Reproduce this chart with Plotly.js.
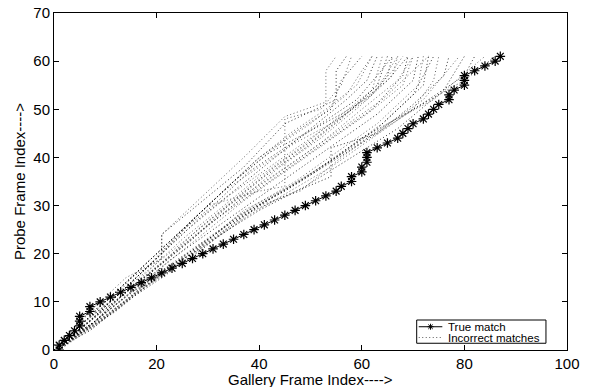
<!DOCTYPE html>
<html>
<head>
<meta charset="utf-8">
<script src="https://cdn.plot.ly/plotly-3.0.1.min.js"></script>
<style>html,body{margin:0;padding:0;background:#fff;}#chart{width:600px;height:387px;}</style>
</head>
<body>
<div id="chart"></div>
<script>
// True match path (gallery frame index vs probe frame index)
const trueX = [1,1,2,3,4,5,5,5,7,7,9,11,13,15,17,19,21,23,25,27,29,31,33,35,37,39,41,43,45,47,49,51,53,55,56,58,58,60,60,61,61,61,63,65,67,68,69,70,72,73,74,75,77,77,78,80,80,80,82,84,86,87];
const trueY = [0,1,2,3,4,5,6,7,8,9,10,11,12,13,14,15,16,17,18,19,20,21,22,23,24,25,26,27,28,29,30,31,32,33,34,35,36,37,38,39,40,41,42,43,44,45,46,47,48,49,50,51,52,53,54,55,56,57,58,59,60,61];

// Incorrect match paths (vertices)
const wrongX = [
  [0,4,9,14,21,21,28,37,45,53,53,55],
  [0,5,10,15,21,21,29,37,45,55,55,57],
  [1,5,11,16,22,30,40,45,45,52,56,58],
  [0,6,12,18,25,32,40,48,54,56,60],
  [1,6,13,20,27,35,43,50,57,60,62],
  [0,7,14,21,28,35,42,50,57,61,63],
  [1,6,12,18,25,32,40,48,55,62,64],
  [0,7,13,20,27,34,41,49,56,63,65],
  [1,6,14,21,29,36,44,52,60,66,67],
  [0,8,15,22,30,38,46,54,62,68,69],
  [1,7,14,22,29,37,45,53,61,68,70],
  [0,8,16,23,31,39,47,55,63,70,71],
  [1,8,15,23,31,39,47,55,63,71,72],
  [0,9,16,24,32,40,48,56,64,72,73],
  [1,8,15,22,30,38,46,54,62,70,74,75],
  [0,7,14,21,29,37,45,54,54,63,70,76,77],
  [1,8,13,21,29,37,46,55,64,72,79],
  [0,6,12,20,28,36,45,54,63,73,80,82],
  [1,7,13,20,27,34,40,48,56,65,74,84],
  [0,5,10,17,26,34,43,51,60,70,80,86],
  [0,6,12,19,26,33,40,47,54,61,66,68],
  [0,5,11,17,24,31,38,45,52,59,63,66],
  [1,7,13,20,27,34,41,48,56,64,70,73],
  [0,9,15,21,28,35,42,49,56,62,65,66],
  [0,6,13,20,28,36,44,52,60,67,70],
  [1,7,14,21,28,36,43,51,58,65,69],
  [0,5,12,19,26,34,42,50,58,64,67],
  [0,8,14,22,30,38,46,55,63,70,74],
  [1,6,11,18,25,32,39,46,53,59,62],
  [0,7,15,23,31,40,49,58,67,76,80]
];
const wrongY = [
  [0,5,10,15,19,24,31,40,48.5,51.5,58,61],
  [0,6,10,15,19,24,31,38,47,52,58,61],
  [0,5,10,16,22,30,33,34,48,50,55,61],
  [1,6,11,17,25,32,40,46,50,56,61],
  [1,5,12,19,27,35,42,47,53,58,61],
  [0,6,13,20,27,33,39,46,52,56,61],
  [0,4,10,16,23,29,36,42,48,54,61],
  [0,5,11,17,23,30,36,42,48,55,61],
  [1,5,12,18,25,31,38,44,51,57,61],
  [0,6,13,19,26,32,38,44,50,57,61],
  [0,5,11,18,24,31,37,43,49,55,61],
  [0,6,13,19,25,31,37,43,49,56,61],
  [1,6,12,18,24,30,35,41,47,55,61],
  [0,6,12,18,24,30,35,41,47,55,61],
  [0,5,11,16,22,28,33,38,44,50,56,61],
  [0,4,10,15,21,28,32,36,42,45,51,57,61],
  [1,5,9,16,22,29,34,40,46,52,61],
  [0,4,8,15,21,28,33,39,45,52,57,61],
  [0,5,9,16,20,25,30,33,40,47,52,61],
  [0,3,7,13,20,26,32,37,44,50,56,61],
  [0,6,12,19,26,33,38,43,47,52,58,61],
  [0,5,11,17,24,30,37,42,47,52,57,61],
  [1,6,12,18,24,30,35,40,46,52,58,61],
  [0,8,14,20,28,35,41,45,49,53,57,61],
  [0,5,11,17,24,31,37,43,50,56,61],
  [1,6,12,18,25,32,38,44,50,56,61],
  [0,5,11,18,25,32,38,44,50,56,61],
  [0,6,11,17,23,29,34,40,46,53,61],
  [1,6,11,18,25,32,39,45,50,55,61],
  [0,5,11,17,23,29,34,40,46,54,61]
];

const xTicks = [0,20,40,60,80,100];
const yTicks = [0,10,20,30,40,50,60,70];
const legendLabels = ['True match','Incorrect matches'];
const xTitle = 'Gallery Frame Index---->';
const yTitle = 'Probe Frame Index---->';

const traces = [];
wrongX.forEach(function(xs, i){
  traces.push({
    x: xs, y: wrongY[i], type: 'scatter', mode: 'lines',
    line: {color: i % 2 ? 'rgba(0,0,0,0.8)' : 'rgba(0,0,0,0.6)', width: 1, dash: '1px,2.5px'},
    hoverinfo: 'skip', showlegend: false
  });
});
traces.push({
  x: trueX, y: trueY, type: 'scatter', mode: 'lines+markers',
  line: {color: '#000', width: 1},
  marker: {symbol: 'asterisk-open', size: 8, color: '#000', line: {color: '#000', width: 1.2}},
  showlegend: false
});

const font = {family: '"Liberation Sans", Arial, Helvetica, sans-serif', color: '#000'};

const layout = {
  width: 600, height: 387,
  margin: {l: 54, r: 33, t: 13, b: 37, pad: 0},
  paper_bgcolor: '#fff', plot_bgcolor: '#fff',
  showlegend: false,
  font: Object.assign({size: 15}, font),
  xaxis: {
    range: [0, 100], tickvals: xTicks, ticktext: xTicks.map(String),
    ticks: 'inside', ticklen: 5, tickcolor: '#000', mirror: 'ticks',
    showline: true, linecolor: '#000', linewidth: 1,
    showgrid: false, zeroline: false,
    tickfont: Object.assign({size: 15}, font)
  },
  yaxis: {
    range: [0, 70], tickvals: yTicks, ticktext: yTicks.map(String),
    ticks: 'inside', ticklen: 5, tickcolor: '#000', mirror: 'ticks',
    showline: true, linecolor: '#000', linewidth: 1,
    showgrid: false, zeroline: false,
    tickfont: Object.assign({size: 15}, font),
    title: {text: yTitle, font: Object.assign({size: 15}, font), standoff: 4}
  },
  shapes: [
    {type: 'rect', xref: 'paper', yref: 'paper', x0: 0.707, x1: 0.959, y0: 0.020, y1: 0.089,
     line: {color: '#000', width: 1}, fillcolor: '#fff', layer: 'above'},
    {type: 'line', xref: 'paper', yref: 'paper', x0: 0.711, x1: 0.757, y0: 0.069, y1: 0.069,
     line: {color: '#000', width: 1}, layer: 'above'},
    {type: 'path', xref: 'paper', yref: 'paper', xsizemode: 'pixel', ysizemode: 'pixel',
     xanchor: 0.734, yanchor: 0.069,
     path: 'M-3,0L3,0M0,-3L0,3M-2.2,-2.2L2.2,2.2M-2.2,2.2L2.2,-2.2',
     line: {color: '#000', width: 1}, layer: 'above'},
    {type: 'line', xref: 'paper', yref: 'paper', x0: 0.711, x1: 0.757, y0: 0.037, y1: 0.037,
     line: {color: 'rgba(0,0,0,0.65)', width: 1, dash: '1px,2.5px'}, layer: 'above'}
  ],
  annotations: [
    {xref: 'paper', yref: 'paper', x: 0.765, y: 0.069, xanchor: 'left', yanchor: 'middle',
     text: legendLabels[0], showarrow: false, font: Object.assign({size: 11.5}, font)},
    {xref: 'paper', yref: 'paper', x: 0.765, y: 0.037, xanchor: 'left', yanchor: 'middle',
     text: legendLabels[1], showarrow: false, font: Object.assign({size: 11.5}, font)},
    {xref: 'paper', yref: 'paper', x: 0.5, y: 0, xanchor: 'center', yanchor: 'top', yshift: -20,
     text: xTitle, showarrow: false, borderpad: 0, font: Object.assign({size: 15}, font)}
  ]
};

Plotly.newPlot('chart', traces, layout, {displayModeBar: false, staticPlot: true});
</script>
</body>
</html>
